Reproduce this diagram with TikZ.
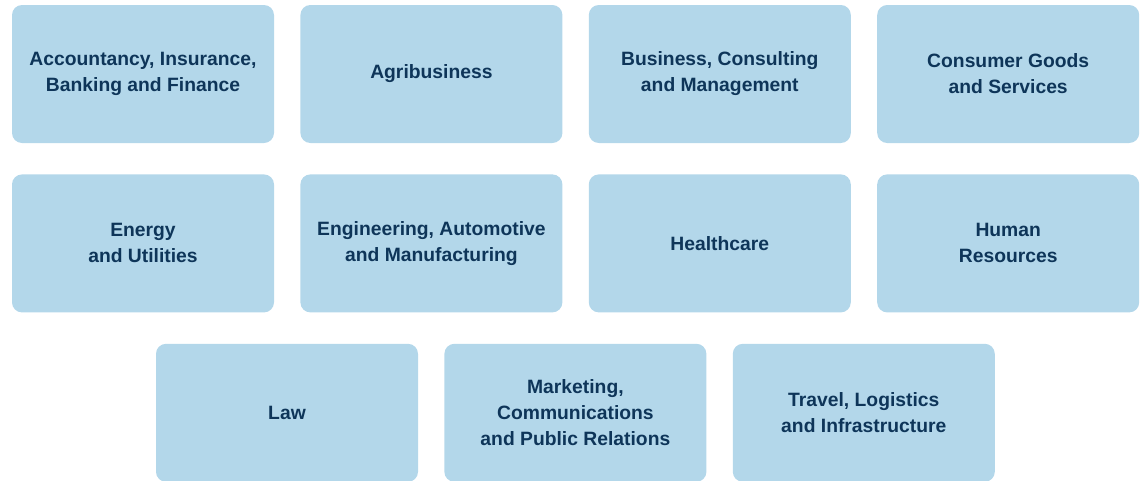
\documentclass[tikz,border=0pt]{standalone}
\usepackage{fontspec}
\setmainfont{Liberation Sans}
\usetikzlibrary{positioning}
\definecolor{boxblue}{HTML}{B3D7EA}
\definecolor{navytext}{HTML}{0E3559}
\tikzset{
    sector/.style={
      rectangle,
           fill=boxblue, draw=none,
           rounded corners=10pt,
           inner sep=2pt,
           align=center,
           text=navytext,
           font=\fontsize{19.3}{26}\selectfont\bfseries,
           minimum width=262pt,
           minimum height=138pt,
           },
}

\begin{document}
\begin{tikzpicture}[x=1pt,y=-1pt]

\useasboundingbox (0,0) rectangle (1141,480);

% first row
\node[sector] at (143,74)(acc){Accountancy, Insurance,\\Banking and Finance};
\node[sector,right = 26pt of acc](agr){Agribusiness};
\node[sector,right = 26pt of agr](bus){Business, Consulting\\and Management};
\node[sector,right = 26pt of bus](con){Consumer Goods\\and Services};

% second row
\node[sector,below = 31pt of acc](ene){Energy\\and Utilities};
\node[sector,right = 26pt of ene](eng){Engineering, Automotive\\and Manufacturing};
\node[sector,right = 26pt of eng](hea){Healthcare};
\node[sector,right = 26pt of hea](hum){Human\\Resources};

% third row
\node[sector,below = 31pt of ene,xshift=144pt](law){Law};
\node[sector,right = 26pt of law](mar){Marketing,\\Communications\\and Public Relations};
\node[sector,right = 26pt of mar](tra){Travel, Logistics\\and Infrastructure};

\end{tikzpicture}
\end{document}
